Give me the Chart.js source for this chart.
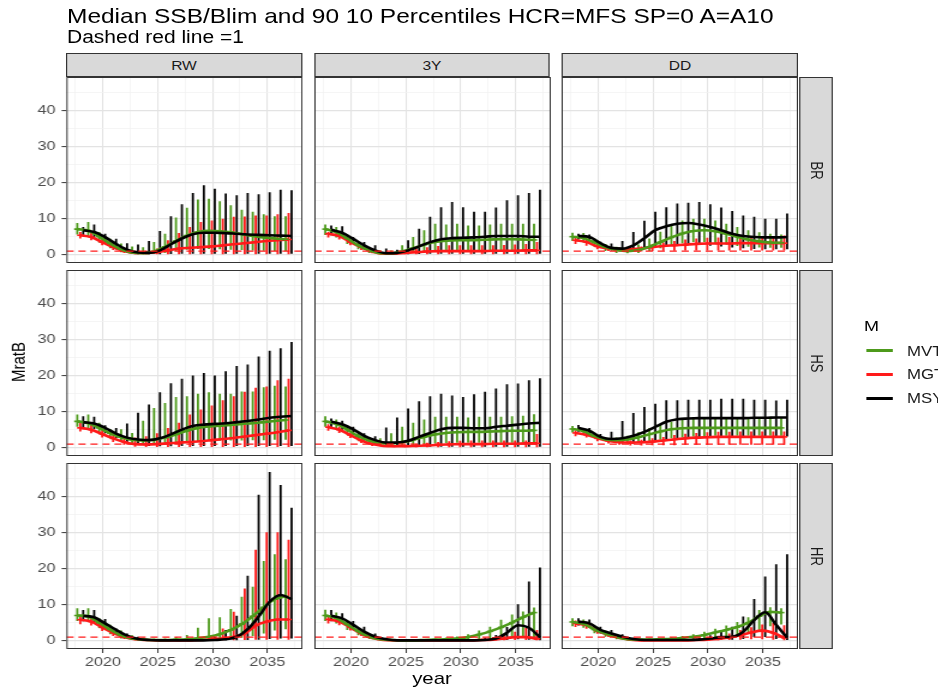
<!DOCTYPE html>
<html>
<head>
<meta charset="utf-8">
<script src="https://cdn.jsdelivr.net/npm/chart.js@4.4.1/dist/chart.umd.min.js"></script>
<style>
html, body { margin: 0; padding: 0; background: #fff; overflow: hidden; width: 938px; height: 688px; }
#stage { position: absolute; left: 0; top: 0; height: 688px; transform-origin: 0 0; font-family: "Liberation Sans", Arial, sans-serif; }
.txt { position: absolute; white-space: nowrap; line-height: 1; }
.strip { position: absolute; box-sizing: border-box; background: #D9D9D9; border: 1px solid #333; display: flex; align-items: center; justify-content: center; color: #1A1A1A; }
canvas { position: absolute; }
</style>
</head>
<body>
<div id="stage"></div>
<script>
// años de proyección
const YEARS = [2018, 2019, 2020, 2021, 2022, 2023, 2024, 2025, 2026, 2027, 2028, 2029, 2030, 2031, 2032, 2033, 2034, 2035, 2036, 2037];
const HCRS = ["RW", "3Y", "DD"];      // columnas
const SRS = ["BR", "HS", "HR"];       // filas
const SERIES = ["MVT", "MGT", "MSY"]; // grupos M
const BLIM_RATIO = 1;                 // línea roja discontinua
const Y_TICKS = [0, 10, 20, 30, 40];
const X_TICKS = [2020, 2025, 2030, 2035];

// mediana, percentil 10 y percentil 90 de cada panel
const RW_BR_MVT_MED = [7.1, 6.7, 5.0, 3.1, 1.5, 0.6, 0.4, 0.9, 2.2, 3.8, 5.3, 6.3, 6.6, 6.5, 6.2, 5.7, 5.2, 4.8, 4.5, 4.3];
const RW_BR_MVT_LO  = [5.6, 5.2, 3.4, 1.8, 0.7, 0.2, 0.1, 0.2, 0.5, 1.0, 1.4, 1.6, 1.6, 1.5, 1.4, 1.3, 1.2, 1.1, 1.0, 1.0];
const RW_BR_MVT_HI  = [8.8, 9.1, 6.3, 4.4, 3.1, 2.3, 2.1, 3.5, 5.8, 10.3, 13.0, 15.3, 15.5, 14.8, 13.7, 12.5, 11.9, 11.2, 10.7, 10.7];
const RW_BR_MGT_MED = [5.4, 4.9, 3.5, 2.1, 1.0, 0.5, 0.5, 0.7, 1.2, 1.7, 1.9, 2.1, 2.3, 2.6, 2.9, 3.2, 3.5, 3.8, 4.0, 4.2];
const RW_BR_MGT_LO  = [4.5, 4.0, 2.6, 1.3, 0.5, 0.1, 0.1, 0.1, 0.1, 0.1, 0.1, 0.1, 0.1, 0.1, 0.1, 0.1, 0.1, 0.1, 0.1, 0.1];
const RW_BR_MGT_HI  = [6.3, 6.0, 4.4, 3.1, 1.9, 1.2, 1.2, 1.7, 4.0, 6.0, 7.7, 9.1, 9.5, 10.0, 10.5, 10.6, 10.9, 10.9, 11.2, 11.6];
const RW_BR_MSY_MED = [6.8, 6.3, 4.9, 3.0, 1.4, 0.6, 0.5, 1.2, 2.9, 4.5, 5.7, 6.1, 6.1, 6.0, 5.8, 5.6, 5.5, 5.4, 5.3, 5.2];
const RW_BR_MSY_LO  = [5.3, 4.8, 3.0, 1.5, 0.5, 0.1, 0.1, 0.1, 0.2, 0.3, 0.3, 0.3, 0.3, 0.3, 0.3, 0.3, 0.3, 0.3, 0.3, 0.3];
const RW_BR_MSY_HI  = [7.7, 8.4, 5.8, 4.4, 3.2, 2.8, 3.8, 6.6, 10.7, 14.0, 17.1, 19.3, 18.3, 17.0, 16.5, 17.1, 16.8, 17.3, 18.0, 17.9];

const Y3_BR_MVT_MED = [7.1, 6.3, 4.5, 2.6, 1.2, 0.4, 0.4, 0.9, 1.8, 2.8, 3.5, 3.9, 4.0, 4.0, 4.1, 4.2, 4.3, 4.3, 4.2, 4.1];
const Y3_BR_MVT_LO  = [5.5, 4.8, 3.0, 1.5, 0.5, 0.1, 0.1, 0.2, 0.5, 0.8, 1.0, 1.1, 1.1, 1.1, 1.1, 1.1, 1.1, 1.1, 1.1, 1.1];
const Y3_BR_MVT_HI  = [8.4, 7.7, 5.6, 3.4, 1.9, 1.2, 1.2, 2.6, 4.9, 6.8, 8.6, 8.4, 8.6, 8.1, 8.1, 8.4, 8.6, 8.6, 8.6, 8.6];
const Y3_BR_MGT_MED = [5.8, 5.2, 3.5, 2.1, 0.9, 0.3, 0.3, 0.5, 0.7, 0.9, 1.0, 1.0, 1.0, 1.0, 1.0, 1.1, 1.1, 1.1, 1.2, 1.2];
const Y3_BR_MGT_LO  = [4.8, 4.2, 2.6, 1.3, 0.4, 0.1, 0.1, 0.1, 0.1, 0.1, 0.1, 0.1, 0.1, 0.1, 0.1, 0.1, 0.1, 0.1, 0.1, 0.1];
const Y3_BR_MGT_HI  = [6.3, 5.8, 4.0, 2.3, 1.2, 0.6, 0.6, 1.0, 1.7, 2.1, 2.4, 2.6, 2.6, 2.6, 2.6, 2.6, 2.7, 2.8, 3.0, 3.5];
const Y3_BR_MSY_MED = [6.9, 6.1, 4.4, 2.6, 1.2, 0.4, 0.5, 1.2, 2.3, 3.5, 4.3, 4.6, 4.7, 4.8, 5.0, 5.2, 5.2, 5.2, 5.0, 5.0];
const Y3_BR_MSY_LO  = [5.4, 4.7, 3.0, 1.4, 0.5, 0.1, 0.1, 0.1, 0.2, 0.3, 0.3, 0.3, 0.3, 0.3, 0.3, 0.3, 0.3, 0.3, 0.3, 0.3];
const Y3_BR_MSY_HI  = [8.1, 7.9, 4.9, 3.5, 2.6, 1.7, 1.4, 4.0, 7.2, 10.5, 13.2, 14.6, 13.2, 11.9, 11.9, 13.1, 15.1, 16.5, 17.1, 18.0];

const DD_BR_MVT_MED = [5.0, 4.6, 3.4, 2.1, 1.3, 1.0, 1.3, 2.2, 3.5, 4.8, 5.9, 6.6, 6.8, 6.5, 5.8, 5.0, 4.2, 3.7, 3.4, 3.3];
const DD_BR_MVT_LO  = [3.8, 3.4, 2.2, 1.0, 0.5, 0.4, 0.5, 1.0, 1.8, 2.6, 3.2, 3.5, 3.5, 3.2, 2.8, 2.4, 2.2, 2.0, 1.9, 1.9];
const DD_BR_MVT_HI  = [6.1, 6.0, 4.5, 3.0, 2.2, 2.0, 2.8, 4.5, 6.4, 8.2, 9.5, 10.0, 10.0, 9.5, 8.6, 7.7, 6.8, 6.2, 5.8, 5.6];
const DD_BR_MGT_MED = [4.0, 3.5, 2.3, 1.7, 1.4, 1.5, 1.7, 2.1, 2.4, 2.6, 2.8, 3.0, 3.1, 3.1, 3.1, 3.2, 3.2, 3.2, 3.2, 3.2];
const DD_BR_MGT_LO  = [3.0, 2.5, 1.5, 1.0, 0.8, 0.8, 0.9, 1.0, 1.1, 1.1, 1.2, 1.2, 1.2, 1.2, 1.2, 1.2, 1.2, 1.2, 1.2, 1.2];
const DD_BR_MGT_HI  = [5.0, 4.6, 3.2, 2.4, 2.0, 2.0, 2.3, 2.9, 3.4, 3.8, 4.2, 4.5, 4.7, 4.8, 4.9, 5.0, 5.0, 5.0, 5.0, 5.3];
const DD_BR_MSY_MED = [5.2, 4.9, 3.2, 1.9, 1.7, 2.6, 4.6, 6.8, 7.9, 8.6, 8.8, 8.4, 7.7, 6.8, 5.8, 5.2, 4.9, 4.8, 4.8, 4.9];
const DD_BR_MSY_LO  = [4.2, 3.8, 2.4, 1.2, 0.8, 1.0, 1.6, 2.2, 2.6, 2.8, 2.8, 2.7, 2.5, 2.3, 2.0, 1.8, 1.6, 1.5, 1.5, 1.5];
const DD_BR_MSY_HI  = [5.8, 5.6, 3.6, 3.1, 3.8, 6.3, 9.4, 11.9, 13.2, 14.2, 14.4, 14.6, 14.0, 13.1, 12.1, 10.9, 10.5, 10.0, 10.0, 11.4];

const RW_HS_MVT_MED = [7.3, 6.8, 5.5, 4.0, 2.9, 2.2, 2.0, 2.2, 2.8, 3.7, 4.7, 5.5, 5.9, 6.1, 6.3, 6.6, 6.8, 7.1, 7.4, 7.7];
const RW_HS_MVT_LO  = [5.8, 5.3, 4.0, 2.6, 1.6, 1.0, 0.8, 0.8, 1.0, 1.3, 1.6, 1.8, 1.9, 1.9, 2.0, 2.0, 2.1, 2.1, 2.2, 2.2];
const RW_HS_MVT_HI  = [9.2, 9.2, 6.9, 5.2, 5.1, 4.1, 7.5, 11.0, 12.4, 14.1, 14.3, 15.0, 15.4, 15.0, 15.0, 15.6, 15.6, 16.8, 17.2, 17.0];
const RW_HS_MGT_MED = [5.5, 5.0, 3.8, 2.6, 1.6, 1.0, 0.9, 1.0, 1.2, 1.4, 1.6, 1.8, 2.1, 2.4, 2.7, 3.1, 3.5, 3.9, 4.3, 4.8];
const RW_HS_MGT_LO  = [4.5, 4.0, 2.8, 1.6, 0.8, 0.3, 0.2, 0.2, 0.2, 0.2, 0.2, 0.2, 0.2, 0.2, 0.2, 0.2, 0.2, 0.2, 0.2, 0.2];
const RW_HS_MGT_HI  = [7.4, 6.7, 5.2, 3.7, 2.8, 2.8, 3.2, 4.0, 5.5, 6.9, 9.2, 10.6, 11.7, 13.2, 14.3, 15.5, 16.6, 17.0, 18.7, 19.1];
const RW_HS_MSY_MED = [7.1, 6.7, 5.5, 3.9, 2.8, 2.3, 2.1, 2.6, 3.7, 5.0, 6.0, 6.4, 6.6, 6.8, 7.1, 7.4, 7.8, 8.3, 8.6, 8.8];
const RW_HS_MSY_LO  = [5.6, 5.2, 4.0, 2.6, 1.5, 0.8, 0.5, 0.4, 0.4, 0.5, 0.5, 0.5, 0.5, 0.5, 0.5, 0.5, 0.5, 0.5, 0.5, 0.5];
const RW_HS_MSY_HI  = [8.7, 8.6, 6.2, 5.5, 6.7, 9.7, 12.0, 15.4, 17.9, 19.1, 20.0, 20.7, 20.0, 21.2, 22.7, 23.1, 25.3, 26.9, 27.6, 29.3];

const Y3_HS_MVT_MED = [7.3, 6.6, 5.0, 3.2, 2.0, 1.3, 1.2, 1.5, 2.2, 3.0, 3.7, 4.1, 4.3, 4.4, 4.4, 4.5, 4.6, 4.7, 4.7, 4.8];
const Y3_HS_MVT_LO  = [5.8, 5.1, 3.6, 2.0, 1.0, 0.5, 0.4, 0.5, 0.7, 1.0, 1.2, 1.3, 1.4, 1.4, 1.4, 1.4, 1.4, 1.4, 1.4, 1.4];
const Y3_HS_MVT_HI  = [8.7, 7.8, 6.2, 4.2, 2.9, 2.6, 4.0, 5.8, 6.9, 7.8, 8.6, 8.6, 8.6, 8.4, 8.6, 8.6, 8.6, 8.7, 8.9, 9.3];
const Y3_HS_MGT_MED = [5.7, 5.0, 3.5, 2.0, 1.0, 0.5, 0.4, 0.4, 0.5, 0.6, 0.8, 0.9, 1.0, 1.0, 1.0, 1.1, 1.1, 1.1, 1.2, 1.2];
const Y3_HS_MGT_LO  = [4.7, 4.1, 2.7, 1.3, 0.5, 0.2, 0.1, 0.1, 0.1, 0.1, 0.1, 0.1, 0.1, 0.1, 0.1, 0.1, 0.1, 0.1, 0.1, 0.1];
const Y3_HS_MGT_HI  = [6.5, 5.8, 4.1, 2.5, 1.5, 0.9, 0.8, 0.9, 1.1, 1.4, 1.6, 1.8, 1.9, 2.0, 2.0, 2.0, 2.0, 2.0, 2.0, 3.8];
const Y3_HS_MSY_MED = [7.2, 6.5, 5.1, 3.3, 2.1, 1.4, 1.4, 1.9, 3.0, 4.1, 5.1, 5.5, 5.5, 5.4, 5.4, 5.8, 6.1, 6.4, 6.7, 6.9];
const Y3_HS_MSY_LO  = [5.7, 5.0, 3.6, 2.0, 1.0, 0.4, 0.3, 0.3, 0.3, 0.3, 0.3, 0.3, 0.3, 0.3, 0.3, 0.3, 0.3, 0.3, 0.3, 0.3];
const Y3_HS_MSY_HI  = [8.1, 7.5, 5.8, 4.0, 3.2, 5.6, 8.4, 10.9, 12.9, 14.3, 15.0, 14.5, 14.1, 14.8, 15.5, 16.4, 17.6, 17.8, 18.7, 19.3];

const DD_HS_MVT_MED = [5.2, 4.6, 3.2, 2.3, 2.1, 2.3, 2.9, 3.7, 4.5, 5.1, 5.4, 5.5, 5.5, 5.5, 5.5, 5.5, 5.5, 5.5, 5.5, 5.5];
const DD_HS_MVT_LO  = [4.2, 3.7, 2.7, 1.9, 1.5, 1.3, 1.4, 1.7, 2.2, 2.6, 2.9, 3.1, 3.2, 3.3, 3.3, 3.3, 3.3, 3.3, 3.3, 3.3];
const DD_HS_MVT_HI  = [6.0, 5.5, 4.0, 3.0, 2.8, 3.3, 4.3, 5.5, 6.5, 7.2, 7.8, 8.0, 8.2, 8.3, 8.3, 8.3, 8.3, 8.3, 8.3, 8.3];
const DD_HS_MGT_MED = [4.1, 3.6, 2.6, 1.9, 1.5, 1.4, 1.5, 1.7, 2.0, 2.3, 2.6, 2.8, 2.9, 3.0, 3.0, 3.0, 3.0, 3.0, 3.0, 3.0];
const DD_HS_MGT_LO  = [3.2, 2.8, 1.8, 1.2, 0.8, 0.6, 0.6, 0.7, 0.7, 0.7, 0.8, 0.8, 0.8, 0.8, 0.8, 0.8, 0.8, 0.8, 0.8, 0.8];
const DD_HS_MGT_HI  = [4.8, 4.3, 3.2, 2.5, 2.1, 2.0, 2.2, 2.6, 3.0, 3.5, 3.9, 4.1, 4.3, 4.4, 4.4, 4.5, 4.5, 4.5, 4.5, 4.5];
const DD_HS_MSY_MED = [5.5, 4.7, 3.0, 2.4, 2.6, 3.3, 4.4, 5.8, 7.2, 7.9, 8.1, 8.2, 8.2, 8.2, 8.2, 8.2, 8.3, 8.3, 8.4, 8.4];
const DD_HS_MSY_LO  = [4.4, 3.9, 2.4, 1.6, 1.2, 1.2, 1.4, 1.8, 2.2, 2.6, 2.9, 3.0, 3.1, 3.1, 3.1, 3.1, 3.1, 3.1, 3.1, 3.1];
const DD_HS_MSY_HI  = [6.3, 5.5, 3.8, 4.4, 7.4, 9.6, 11.3, 12.2, 13.2, 13.2, 13.3, 13.3, 13.3, 13.6, 13.6, 13.6, 13.3, 13.3, 13.1, 13.3];

const RW_HR_MVT_MED = [7.0, 6.7, 5.0, 3.1, 1.5, 0.6, 0.3, 0.2, 0.2, 0.3, 0.4, 0.7, 1.1, 1.8, 3.0, 4.6, 6.8, 9.3, 11.5, 12.3];
const RW_HR_MVT_LO  = [5.5, 5.2, 3.5, 1.8, 0.6, 0.2, 0.1, 0.1, 0.1, 0.1, 0.1, 0.1, 0.2, 0.3, 0.5, 0.8, 1.3, 2.0, 2.8, 3.2];
const RW_HR_MVT_HI  = [9.0, 9.0, 6.2, 4.4, 2.8, 1.5, 0.8, 0.6, 0.6, 1.0, 1.6, 3.6, 6.2, 6.5, 8.8, 12.2, 15.0, 22.1, 24.0, 22.6];
const RW_HR_MGT_MED = [5.8, 5.3, 3.7, 2.2, 1.0, 0.4, 0.2, 0.1, 0.1, 0.1, 0.1, 0.2, 0.4, 0.6, 1.1, 2.0, 4.2, 5.3, 5.9, 5.9];
const RW_HR_MGT_LO  = [4.6, 4.2, 2.7, 1.3, 0.5, 0.1, 0.0, 0.0, 0.0, 0.0, 0.0, 0.0, 0.1, 0.1, 0.1, 0.2, 0.3, 0.3, 0.3, 0.3];
const RW_HR_MGT_HI  = [6.8, 6.4, 4.6, 2.9, 1.6, 0.8, 0.4, 0.3, 0.3, 0.3, 0.4, 0.8, 1.5, 3.4, 8.0, 14.5, 25.2, 30.1, 30.1, 28.0];
const RW_HR_MSY_MED = [6.9, 6.5, 4.8, 3.0, 1.4, 0.5, 0.2, 0.1, 0.1, 0.1, 0.1, 0.1, 0.2, 0.4, 1.1, 3.2, 6.7, 10.8, 12.7, 11.5];
const RW_HR_MSY_LO  = [5.4, 5.0, 3.3, 1.7, 0.6, 0.1, 0.0, 0.0, 0.0, 0.0, 0.0, 0.0, 0.0, 0.1, 0.1, 0.2, 0.3, 0.5, 0.6, 0.6];
const RW_HR_MSY_HI  = [8.5, 8.5, 6.0, 3.4, 2.0, 1.1, 0.5, 0.3, 0.3, 0.3, 0.3, 0.5, 1.0, 3.0, 6.9, 18.0, 40.5, 46.8, 43.2, 36.9];

const Y3_HR_MVT_MED = [7.0, 6.3, 4.5, 2.6, 1.1, 0.4, 0.2, 0.1, 0.1, 0.2, 0.3, 0.4, 0.6, 1.0, 1.7, 2.6, 3.7, 5.0, 6.5, 7.8];
const Y3_HR_MVT_LO  = [5.5, 4.8, 3.0, 1.5, 0.5, 0.1, 0.0, 0.0, 0.0, 0.0, 0.0, 0.1, 0.1, 0.2, 0.3, 0.5, 0.8, 1.0, 1.0, 0.8];
const Y3_HR_MVT_HI  = [8.6, 7.8, 5.5, 3.3, 1.6, 0.8, 0.4, 0.3, 0.3, 0.4, 0.6, 0.9, 1.2, 1.8, 2.8, 3.9, 5.8, 7.3, 8.1, 9.2];
const Y3_HR_MGT_MED = [5.9, 5.3, 3.7, 2.0, 0.8, 0.2, 0.1, 0.1, 0.1, 0.1, 0.1, 0.1, 0.1, 0.1, 0.2, 0.3, 0.6, 1.0, 1.0, 0.5];
const Y3_HR_MGT_LO  = [4.8, 4.3, 2.8, 1.3, 0.4, 0.1, 0.0, 0.0, 0.0, 0.0, 0.0, 0.0, 0.0, 0.0, 0.0, 0.1, 0.1, 0.2, 0.2, 0.1];
const Y3_HR_MGT_HI  = [6.6, 6.0, 4.3, 2.6, 1.2, 0.5, 0.3, 0.2, 0.2, 0.2, 0.2, 0.2, 0.3, 0.4, 0.6, 1.0, 1.6, 2.5, 3.5, 3.0];
const Y3_HR_MSY_MED = [6.9, 6.2, 4.4, 2.5, 1.1, 0.4, 0.1, 0.1, 0.1, 0.1, 0.1, 0.1, 0.1, 0.1, 0.2, 0.6, 2.2, 4.3, 3.6, 0.9];
const Y3_HR_MSY_LO  = [5.4, 4.7, 2.9, 1.4, 0.4, 0.1, 0.0, 0.0, 0.0, 0.0, 0.0, 0.0, 0.0, 0.0, 0.0, 0.1, 0.2, 0.4, 0.3, 0.1];
const Y3_HR_MSY_HI  = [8.5, 7.6, 5.5, 3.9, 2.0, 0.8, 0.3, 0.2, 0.2, 0.2, 0.2, 0.2, 0.3, 0.5, 0.8, 1.6, 3.8, 10.1, 16.4, 20.3];

const DD_HR_MVT_MED = [5.2, 4.7, 3.1, 2.0, 1.0, 0.4, 0.3, 0.3, 0.4, 0.5, 0.8, 1.1, 1.6, 2.3, 3.0, 3.8, 5.0, 6.8, 8.0, 7.8];
const DD_HR_MVT_LO  = [4.0, 3.6, 2.1, 1.1, 0.4, 0.1, 0.1, 0.1, 0.1, 0.1, 0.2, 0.3, 0.5, 0.8, 1.2, 1.5, 2.0, 3.0, 4.0, 4.5];
const DD_HR_MVT_HI  = [6.2, 5.9, 4.0, 2.8, 1.6, 0.8, 0.6, 0.6, 0.7, 0.9, 1.3, 1.8, 2.5, 3.3, 4.2, 5.2, 6.5, 8.5, 9.3, 9.0];
const DD_HR_MGT_MED = [4.8, 4.3, 2.7, 1.7, 0.8, 0.3, 0.1, 0.1, 0.1, 0.1, 0.1, 0.2, 0.3, 0.5, 0.9, 1.5, 2.3, 2.8, 2.2, 0.8];
const DD_HR_MGT_LO  = [3.8, 3.3, 1.9, 1.0, 0.4, 0.1, 0.0, 0.0, 0.0, 0.0, 0.0, 0.0, 0.1, 0.1, 0.2, 0.3, 0.4, 0.4, 0.3, 0.1];
const DD_HR_MGT_HI  = [5.6, 5.1, 3.5, 2.3, 1.2, 0.5, 0.3, 0.3, 0.3, 0.3, 0.4, 0.6, 0.9, 1.4, 2.0, 3.0, 3.7, 4.5, 5.0, 4.3];
const DD_HR_MSY_MED = [5.3, 4.8, 3.0, 2.0, 1.1, 0.5, 0.2, 0.2, 0.2, 0.2, 0.2, 0.3, 0.6, 1.0, 1.1, 2.5, 5.7, 7.9, 4.4, 0.8];
const DD_HR_MSY_LO  = [4.2, 3.8, 2.0, 1.0, 0.4, 0.1, 0.0, 0.0, 0.0, 0.0, 0.0, 0.1, 0.2, 0.3, 0.3, 0.5, 1.0, 1.0, 0.5, 0.2];
const DD_HR_MSY_HI  = [6.2, 5.9, 3.9, 3.0, 1.8, 0.8, 0.4, 0.4, 0.4, 0.4, 0.5, 0.8, 1.5, 2.5, 3.9, 6.7, 11.6, 17.8, 21.2, 24.0];

// tabla de paneles [fila][columna] -> {serie: [mediana, p10, p90]}
const PANEL_DATA = [
  [
    { MVT: [RW_BR_MVT_MED, RW_BR_MVT_LO, RW_BR_MVT_HI], MGT: [RW_BR_MGT_MED, RW_BR_MGT_LO, RW_BR_MGT_HI], MSY: [RW_BR_MSY_MED, RW_BR_MSY_LO, RW_BR_MSY_HI] },
    { MVT: [Y3_BR_MVT_MED, Y3_BR_MVT_LO, Y3_BR_MVT_HI], MGT: [Y3_BR_MGT_MED, Y3_BR_MGT_LO, Y3_BR_MGT_HI], MSY: [Y3_BR_MSY_MED, Y3_BR_MSY_LO, Y3_BR_MSY_HI] },
    { MVT: [DD_BR_MVT_MED, DD_BR_MVT_LO, DD_BR_MVT_HI], MGT: [DD_BR_MGT_MED, DD_BR_MGT_LO, DD_BR_MGT_HI], MSY: [DD_BR_MSY_MED, DD_BR_MSY_LO, DD_BR_MSY_HI] },
  ],
  [
    { MVT: [RW_HS_MVT_MED, RW_HS_MVT_LO, RW_HS_MVT_HI], MGT: [RW_HS_MGT_MED, RW_HS_MGT_LO, RW_HS_MGT_HI], MSY: [RW_HS_MSY_MED, RW_HS_MSY_LO, RW_HS_MSY_HI] },
    { MVT: [Y3_HS_MVT_MED, Y3_HS_MVT_LO, Y3_HS_MVT_HI], MGT: [Y3_HS_MGT_MED, Y3_HS_MGT_LO, Y3_HS_MGT_HI], MSY: [Y3_HS_MSY_MED, Y3_HS_MSY_LO, Y3_HS_MSY_HI] },
    { MVT: [DD_HS_MVT_MED, DD_HS_MVT_LO, DD_HS_MVT_HI], MGT: [DD_HS_MGT_MED, DD_HS_MGT_LO, DD_HS_MGT_HI], MSY: [DD_HS_MSY_MED, DD_HS_MSY_LO, DD_HS_MSY_HI] },
  ],
  [
    { MVT: [RW_HR_MVT_MED, RW_HR_MVT_LO, RW_HR_MVT_HI], MGT: [RW_HR_MGT_MED, RW_HR_MGT_LO, RW_HR_MGT_HI], MSY: [RW_HR_MSY_MED, RW_HR_MSY_LO, RW_HR_MSY_HI] },
    { MVT: [Y3_HR_MVT_MED, Y3_HR_MVT_LO, Y3_HR_MVT_HI], MGT: [Y3_HR_MGT_MED, Y3_HR_MGT_LO, Y3_HR_MGT_HI], MSY: [Y3_HR_MSY_MED, Y3_HR_MSY_LO, Y3_HR_MSY_HI] },
    { MVT: [DD_HR_MVT_MED, DD_HR_MVT_LO, DD_HR_MVT_HI], MGT: [DD_HR_MGT_MED, DD_HR_MGT_LO, DD_HR_MGT_HI], MSY: [DD_HR_MSY_MED, DD_HR_MSY_LO, DD_HR_MSY_HI] },
  ],
];

// la imagen original está estirada en horizontal, así que escalamos todo el escenario
const SX = 1.2;
const X_MIN = 2016.68, X_MAX = 2038.2;
const Y_MIN = -2.3, Y_MAX = 49.3;
const COL_X = [66, 314, 562];
const ROW_Y = [77, 270, 463];
const PANEL_W = 236, PANEL_H = 186;
const AXIS_W = 46, AXIS_H = 26;
const DODGE = { MVT: -0.33, MGT: -0.06, MSY: 0.21 };
const COLORS = { MVT: "#4D9A1B", MGT: "#FF1A1A", MSY: "#000000" };
const FONT = "Liberation Sans, Arial, sans-serif";

const stage = document.getElementById("stage");
stage.style.width = (938 / SX) + "px";
stage.style.transform = "scaleX(" + SX + ")";

Chart.defaults.font.family = FONT;

function addText(str, x, y, size, opts = {}) {
  const d = document.createElement("div");
  d.className = "txt";
  d.textContent = str;
  d.style.fontSize = size + "px";
  d.style.color = opts.color || "#000";
  d.style.left = (x / SX) + "px";
  d.style.top = y + "px";
  const tx = opts.center ? "-50%" : "0";
  d.style.transform = "translate(" + tx + ", -50%)" + (opts.rotate ? " rotate(" + opts.rotate + "deg)" : "");
  stage.appendChild(d);
  return d;
}

function addStrip(x, y, w, h, label, vertical) {
  const d = document.createElement("div");
  d.className = "strip";
  d.style.left = (x / SX) + "px";
  d.style.top = y + "px";
  d.style.width = (w / SX) + "px";
  d.style.height = h + "px";
  const s = document.createElement("span");
  s.textContent = label;
  s.style.fontSize = "13px";
  if (vertical) s.style.transform = "rotate(90deg)";
  d.appendChild(s);
  stage.appendChild(d);
}

// borde del panel (theme_bw)
const panelBorder = {
  id: "panelBorder",
  afterDraw(chart) {
    const a = chart.chartArea, ctx = chart.ctx;
    ctx.save();
    ctx.strokeStyle = "#333333";
    ctx.lineWidth = 1;
    ctx.strokeRect(a.left + 0.5, a.top + 0.5, a.right - a.left - 1, a.bottom - a.top - 1);
    ctx.restore();
  },
};

function barPoints(lo, hi, off) {
  const pts = [];
  YEARS.forEach((yr, i) => {
    pts.push({ x: yr + off, y: lo[i] }, { x: yr + off, y: hi[i] }, { x: yr + off, y: null });
  });
  return pts;
}

function makePanel(row, col) {
  const data = PANEL_DATA[row][col];
  const axisW = col === 0 ? AXIS_W : 0;
  const axisH = row === 2 ? AXIS_H : 0;

  const cv = document.createElement("canvas");
  const w = Math.round((PANEL_W + axisW) / SX);
  const h = PANEL_H + axisH;
  cv.width = w; cv.height = h;
  cv.style.width = w + "px"; cv.style.height = h + "px";
  cv.style.left = ((COL_X[col] - axisW) / SX) + "px";
  cv.style.top = ROW_Y[row] + "px";
  stage.appendChild(cv);

  const lines = [];
  const bars = [];
  ["MSY", "MVT", "MGT"].forEach((m) => {
    const [med, lo, hi] = data[m];
    const off = DODGE[m];
    const tick = m === "MSY" ? 0 : 2.6; // marca horizontal en la mediana
    lines.push({
      data: YEARS.map((yr, i) => ({ x: yr + off, y: med[i] })),
      borderColor: COLORS[m], borderWidth: 2.6,
      tension: 0.4, cubicInterpolationMode: "monotone",
      pointStyle: "line", pointRadius: tick, pointBorderWidth: 1.6,
      pointBorderColor: COLORS[m],
    });
    bars.push({
      data: barPoints(lo, hi, off),
      borderColor: COLORS[m], borderWidth: 1.8, spanGaps: false,
      pointRadius: 0,
    });
  });

  const datasets = [
    {
      data: [{ x: X_MIN, y: BLIM_RATIO }, { x: X_MAX, y: BLIM_RATIO }],
      borderColor: "#FF1A1A", borderWidth: 1.3, borderDash: [6, 4], pointRadius: 0,
    },
    ...lines,
    ...bars,
  ];

  new Chart(cv, {
    type: "line",
    data: { datasets },
    plugins: [panelBorder],
    options: {
      responsive: false,
      animation: false,
      events: [],
      layout: { padding: 0, autoPadding: false },
      plugins: { legend: { display: false }, tooltip: { enabled: false } },
      scales: {
        x: {
          type: "linear", min: X_MIN, max: X_MAX,
          afterFit(s) { s.height = axisH; s.paddingLeft = 0; s.paddingRight = 0; },
          border: { display: false },
          grid: {
            color: (c) => (X_TICKS.includes(c.tick.value) ? "#E3E3E3" : "#F1F1F1"),
            lineWidth: (c) => (X_TICKS.includes(c.tick.value) ? 1.1 : 0.7),
            drawTicks: row === 2, tickLength: 4, tickWidth: 1,
            tickColor: (c) => (X_TICKS.includes(c.tick.value) ? "#333333" : "rgba(0,0,0,0)"),
          },
          ticks: {
            display: row === 2, stepSize: 2.5, includeBounds: false, autoSkip: false, maxRotation: 0,
            padding: 1, color: "#4D4D4D", font: { size: 13.5, family: FONT },
            callback: (v) => (X_TICKS.includes(v) ? String(v) : ""),
          },
        },
        y: {
          type: "linear", min: Y_MIN, max: Y_MAX,
          afterFit(s) { s.width = axisW / SX; s.paddingTop = 0; s.paddingBottom = 0; },
          border: { display: false },
          grid: {
            color: (c) => (Y_TICKS.includes(c.tick.value) ? "#E3E3E3" : "#F1F1F1"),
            lineWidth: (c) => (Y_TICKS.includes(c.tick.value) ? 1.2 : 0.7),
            drawTicks: col === 0, tickLength: 4, tickWidth: 1,
            tickColor: (c) => (Y_TICKS.includes(c.tick.value) ? "#333333" : "rgba(0,0,0,0)"),
          },
          ticks: {
            display: col === 0, stepSize: 5, includeBounds: false, autoSkip: false,
            padding: 5, color: "#4D4D4D", font: { size: 13.5, family: FONT },
            callback: (v) => (Y_TICKS.includes(v) ? String(v) : ""),
          },
        },
      },
    },
  });
}

// títulos
addText("Median SSB/Blim and 90 10 Percentiles HCR=MFS SP=0 A=A10", 67, 16, 20.4);
addText("Dashed red line =1", 67, 38, 17.5);

// tiras de facetas
HCRS.forEach((hcr, c) => addStrip(COL_X[c], 53, PANEL_W, 24, hcr, false));
SRS.forEach((sr, r) => addStrip(799, ROW_Y[r], 34, PANEL_H, sr, true));

for (let r = 0; r < 3; r++) {
  for (let c = 0; c < 3; c++) makePanel(r, c);
}

// títulos de ejes
addText("year", 432, 678, 17, { center: true });
addText("MratB", 18, 362, 15, { center: true, rotate: -90 });

// leyenda
addText("M", 864, 325, 15);
SERIES.forEach((m, i) => {
  const y = [350.7, 374.3, 398.3][i];
  const ln = document.createElement("div");
  ln.style.position = "absolute";
  ln.style.left = (866.7 / SX) + "px";
  ln.style.top = (y - 1.5) + "px";
  ln.style.width = (26 / SX) + "px";
  ln.style.height = "3px";
  ln.style.background = COLORS[m];
  stage.appendChild(ln);
  addText(m, 907, y, 14, { color: "#1A1A1A" });
});
</script>
</body>
</html>
